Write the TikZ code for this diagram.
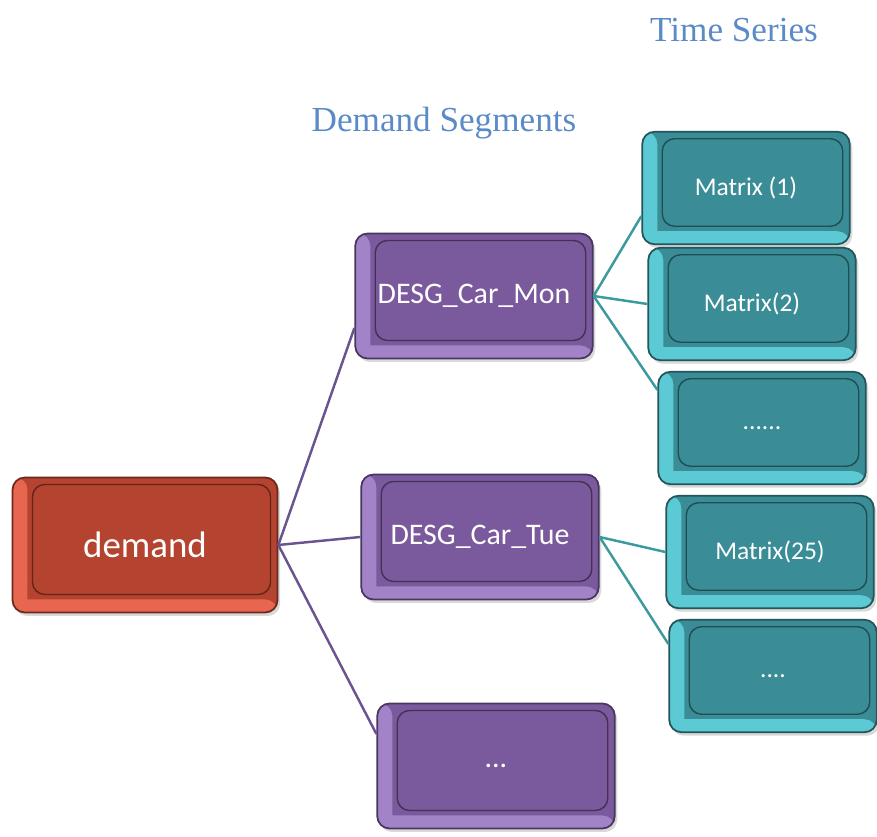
\documentclass[tikz,border=0pt]{standalone}
\usepackage{fontspec}
\setmainfont{Liberation Serif}
\setsansfont{Carlito}
\usetikzlibrary{shadows}

\definecolor{TitleBlue}{HTML}{5B8BC7}
\definecolor{RedFace}{HTML}{B4432F}
\definecolor{RedEdge}{HTML}{E8654F}
\definecolor{PurpleFace}{HTML}{7A5A9C}
\definecolor{PurpleEdge}{HTML}{A283C8}
\definecolor{TealFace}{HTML}{3A8D96}
\definecolor{TealEdge}{HTML}{5CCAD4}
\definecolor{PurpleLine}{HTML}{6A5490}
\definecolor{TealLine}{HTML}{3A9A9E}

\tikzset{
    Slab/.style 2 args={rectangle, rounded corners=7pt, fill=#1, draw=#1!60!black, line width=1pt,
        text=white, font=\sffamily,
        drop shadow={opacity=0.3, shadow xshift=0.05cm, shadow yshift=-0.07cm},
        path picture={
            \fill[#2] (path picture bounding box.south west) rectangle ([xshift=0.3cm]path picture bounding box.north west);
            \fill[#2] (path picture bounding box.south west) rectangle ([yshift=0.26cm]path picture bounding box.south east);
            \fill[#1, draw=#1!55!black, line width=0.8pt]
                ([shift={(0.4,0.36)}]path picture bounding box.south west) rectangle
                ([shift={(-0.14,-0.14)}]path picture bounding box.north east);
        }}
}

\begin{document}
\begin{tikzpicture}[thick]
                \useasboundingbox (0,0) rectangle (17.54,16.74);

                % 1. Box styles
                \tikzstyle{RootSlab}    = [Slab={RedFace}{RedEdge}, minimum width=5.3cm, minimum height=2.7cm, font=\sffamily\fontsize{21}{24}\selectfont]
                \tikzstyle{SegmentSlab} = [Slab={PurpleFace}{PurpleEdge}, minimum width=4.75cm, minimum height=2.5cm, font=\sffamily\fontsize{17}{20}\selectfont]
                \tikzstyle{SeriesSlab}  = [Slab={TealFace}{TealEdge}, minimum width=4.15cm, minimum height=2.25cm, font=\sffamily\fontsize{14.5}{17}\selectfont]
                \tikzstyle{Heading}     = [text=TitleBlue, font=\fontsize{20}{24}\selectfont]

                % 2. Column headings
                \node[Heading] (timeseries) at (14.68,16.14) {Time Series};
                \node[Heading] (segments)   at (8.88,14.28)  {Demand Segments};

                % 3. Root and demand segments
                \node[RootSlab]    (demand)  at (2.90,5.84)  {demand};
                \node[SegmentSlab] (mon)     at (9.48,10.82) {DESG\_Car\_Mon};
                \node[SegmentSlab] (tue)     at (9.60,6.00)  {DESG\_Car\_Tue};
                \node[SegmentSlab] (segdots) at (9.92,1.42)  {...};

                % 4. Time series matrices
                \node[SeriesSlab] (mOne)        at (14.92,12.98) {Matrix (1)};
                \node[SeriesSlab] (mTwo)        at (15.04,10.66) {Matrix(2)};
                \node[SeriesSlab] (monDots)     at (15.24,8.18)  {......};
                \node[SeriesSlab] (mTwentyFive) at (15.40,5.70)  {Matrix(25)};
                \node[SeriesSlab] (tueDots)     at (15.46,3.22)  {....};

                % 5. Connectors
                \draw[PurpleLine, line width=1.4pt] (demand.east) -- (mon.195);
                \draw[PurpleLine, line width=1.4pt] (demand.east) -- (tue.west);
                \draw[PurpleLine, line width=1.4pt] (demand.east) -- (segdots.165);

                \draw[TealLine, line width=1.4pt] (mon.east) -- (mOne.195);
                \draw[TealLine, line width=1.4pt] (mon.east) -- (mTwo.west);
                \draw[TealLine, line width=1.4pt] (mon.east) -- (monDots.160);
                \draw[TealLine, line width=1.4pt] (tue.east) -- (mTwentyFive.west);
                \draw[TealLine, line width=1.4pt] (tue.east) -- (tueDots.163);

            \end{tikzpicture}
\end{document}
